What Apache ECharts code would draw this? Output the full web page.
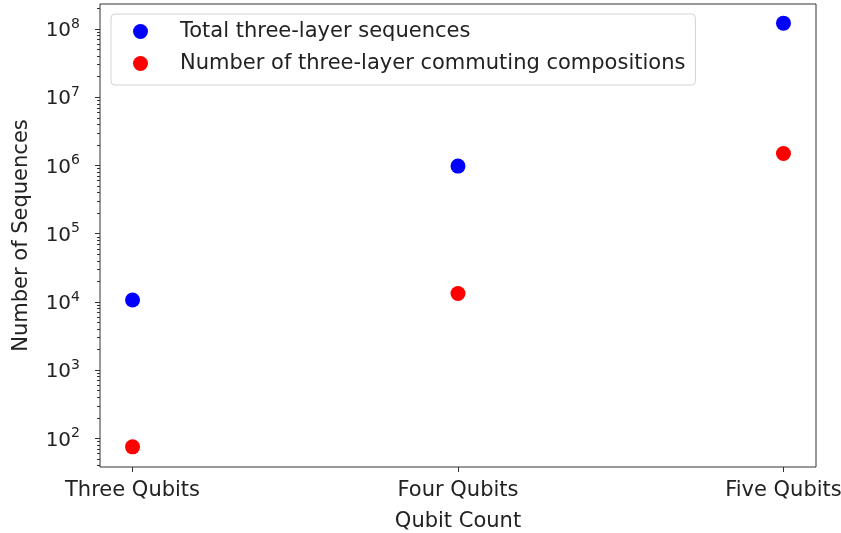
<!DOCTYPE html>
<html>
<head>
<meta charset="utf-8">
<script src="https://cdn.jsdelivr.net/npm/echarts@6/dist/echarts.min.js"></script>
<style>
html,body{margin:0;padding:0;background:#fff;}
#chart{width:841px;height:533px;}
</style>
</head>
<body>
<div id="chart"></div>
<script>
// ---- data ----
var categories = ['Three Qubits', 'Four Qubits', 'Five Qubits'];
var totalSequences = [10648, 980000, 122000000];
var commutingCompositions = [75, 13300, 1500000];
var seriesNames = ['Total three-layer sequences', 'Number of three-layer commuting compositions'];
var yMajorTicks = [1e2, 1e3, 1e4, 1e5, 1e6, 1e7, 1e8];
var yMinorTicks = [40, 50, 60, 70, 80, 90,
  200, 300, 400, 500, 600, 700, 800, 900,
  2e3, 3e3, 4e3, 5e3, 6e3, 7e3, 8e3, 9e3,
  2e4, 3e4, 4e4, 5e4, 6e4, 7e4, 8e4, 9e4,
  2e5, 3e5, 4e5, 5e5, 6e5, 7e5, 8e5, 9e5,
  2e6, 3e6, 4e6, 5e6, 6e6, 7e6, 8e6, 9e6,
  2e7, 3e7, 4e7, 5e7, 6e7, 7e7, 8e7, 9e7, 2e8];
var yMin = 38, yMax = 2.33e8;
var xMin = -0.1, xMax = 2.1;

var FONT = 'DejaVu Sans';
var TXT = '#222';
var FS = 21;

function pts(arr) { return arr.map(function (v, i) { return [i, v]; }); }

var chart = echarts.init(document.getElementById('chart'), null, {renderer: 'canvas'});
var option = {
  animation: false,
  backgroundColor: '#fff',
  textStyle: {fontFamily: FONT},
  grid: {left: 100, right: 25, top: 4, bottom: 66, containLabel: false, outerBoundsMode: 'none',
    show: true, borderColor: '#333', borderWidth: 1, backgroundColor: 'transparent'},
  legend: {
    orient: 'vertical', left: 111, top: 14,
    icon: 'circle', itemWidth: 15, itemHeight: 15, itemGap: 9,
    padding: [6, 10, 10, 22],
    backgroundColor: '#fff', borderColor: '#d3d3d3', borderWidth: 1, borderRadius: 4,
    textStyle: {fontFamily: FONT, fontSize: FS, color: TXT, lineHeight: 23, padding: [0, 0, 0, 27]},
    data: seriesNames
  },
  xAxis: {
    type: 'value', min: xMin, max: xMax,
    name: 'Qubit Count', nameLocation: 'middle', nameGap: 44,
    nameTextStyle: {fontFamily: FONT, fontSize: FS, color: TXT},
    axisLine: {show: false, onZero: false},
    splitLine: {show: false},
    axisTick: {show: true, length: 5, lineStyle: {color: '#333'}, customValues: [0, 1, 2]},
    axisLabel: {fontFamily: FONT, fontSize: FS, color: TXT, margin: 13, customValues: [0, 1, 2],
      formatter: function (v) { return categories[Math.round(v)] || ''; }}
  },
  yAxis: [{
    type: 'log', logBase: 10, min: yMin, max: yMax,
    name: 'Number of Sequences', nameLocation: 'middle', nameGap: 68, nameRotate: 90,
    nameTextStyle: {fontFamily: FONT, fontSize: FS, color: TXT},
    axisLine: {show: false, onZero: false},
    splitLine: {show: false},
    axisTick: {show: true, length: 5, lineStyle: {color: '#333'}, customValues: yMajorTicks},
    axisLabel: {margin: 20, customValues: yMajorTicks,
      formatter: function (v) { return '{b|10}{s|' + Math.round(Math.log10(v)) + '}'; },
      rich: {
        b: {fontFamily: FONT, fontSize: 20, color: TXT, lineHeight: 24, verticalAlign: 'bottom'},
        s: {fontFamily: FONT, fontSize: 14, color: TXT, lineHeight: 24, verticalAlign: 'top', padding: [0, 0, 8, 0]}
      }
    }
  }, {
    type: 'log', logBase: 10, min: yMin, max: yMax, position: 'left',
    axisLine: {show: false, onZero: false}, splitLine: {show: false},
    axisTick: {show: true, length: 3, lineStyle: {color: '#333'}, customValues: yMinorTicks},
    axisLabel: {show: false}
  }],
  series: [{
    name: seriesNames[0], type: 'scatter', symbol: 'circle', symbolSize: 15,
    itemStyle: {color: '#0000ff', opacity: 1}, data: pts(totalSequences), yAxisIndex: 0
  }, {
    name: seriesNames[1], type: 'scatter', symbol: 'circle', symbolSize: 15,
    itemStyle: {color: '#ff0000', opacity: 1}, data: pts(commutingCompositions), yAxisIndex: 0
  }]
};
chart.setOption(option);
</script>
</body>
</html>
